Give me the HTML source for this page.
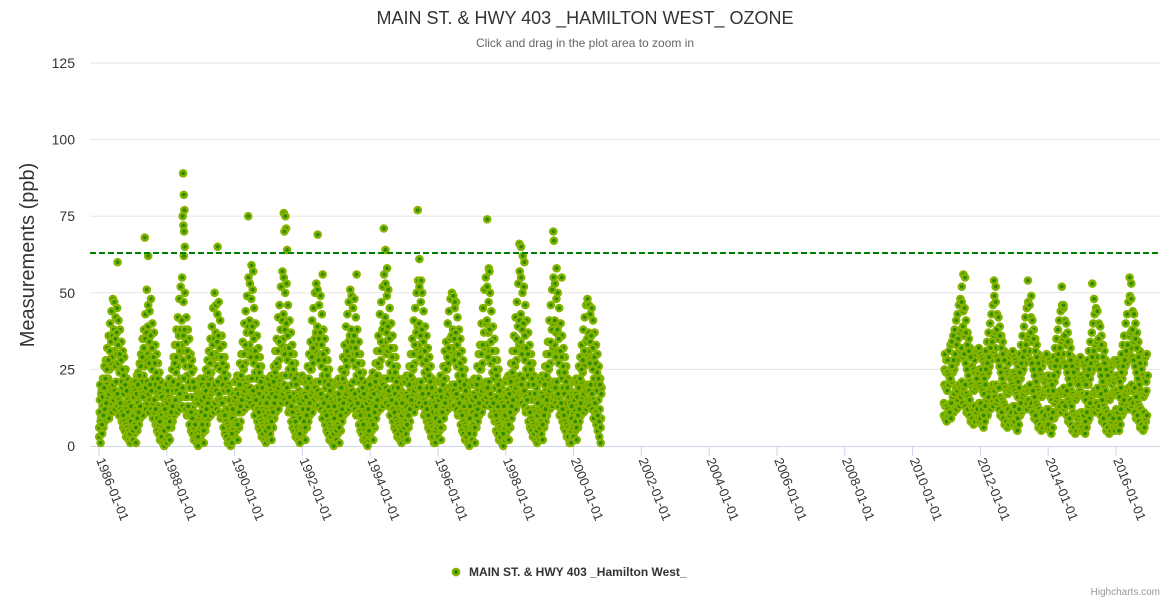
<!DOCTYPE html>
<html><head><meta charset="utf-8"><style>
body{margin:0;background:#fff;font-family:"Liberation Sans",sans-serif;}
svg text{font-family:"Liberation Sans",sans-serif;}
</style></head><body>
<svg id="chart" width="1170" height="600" xmlns="http://www.w3.org/2000/svg">
<rect width="1170" height="600" fill="#fff"/>
<text x="585" y="24" text-anchor="middle" font-size="18" fill="#333">MAIN ST. &amp; HWY 403 _HAMILTON WEST_ OZONE</text>
<text x="585" y="47" text-anchor="middle" font-size="12" fill="#666">Click and drag in the plot area to zoom in</text>
<text transform="translate(34,255) rotate(-90)" text-anchor="middle" font-size="20" fill="#333">Measurements (ppb)</text>
<g id="grid"></g><g id="xaxis"></g><g id="pts"></g><g id="thr"></g>
<g>
<circle cx="456" cy="572" r="3.2" fill="#2f8a00" stroke="#84b400" stroke-width="2.4"/>
<text x="469" y="576" font-size="12" font-weight="bold" fill="#333">MAIN ST. &amp; HWY 403 _Hamilton West_</text>
</g>
<text x="1160" y="595" text-anchor="end" font-size="10" fill="#999">Highcharts.com</text>
</svg>
<script>
const yTicks=[0,25,50,75,100,125];
const xTickYears=[1986,1988,1990,1992,1994,1996,1998,2000,2002,2004,2006,2008,2010,2012,2014,2016];
const threshold=63;
const years=[1986,1987,1988,1989,1990,1991,1992,1993,1994,1995,1996,1997,1998,1999,2000,2010,2011,2012,2013,2014,2015,2016];
const yearValues=[
"3 11 20 1 9 18 4 13 22 6 15 26 8 17 28 10 20 32 12 22 36 9 25 40 14 27 44 11 29 48 15 31 47 12 26 42 16 30 45 13 27 41 10 24 38 12 21 34 8 19 31 6 17 29 5 14 25 3 12 22 4 11 19 2 9 17 1 8 16 3 10 21",
"2 10 19 4 12 21 1 11 23 5 14 24 7 16 27 9 19 30 11 21 35 10 23 38 13 26 43 12 28 51 14 30 46 11 27 44 15 29 48 12 25 40 9 22 37 11 20 33 7 18 30 5 16 27 4 13 24 2 11 21 3 10 18 1 8 16 0 9 15 2 11 20",
"1 9 18 3 12 22 2 10 20 6 15 25 8 18 29 10 21 33 13 24 38 11 26 42 15 29 48 12 31 52 16 33 55 13 28 47 17 31 50 12 26 42 10 23 38 11 21 35 7 19 30 5 16 28 4 13 25 2 11 21 3 10 19 1 8 17 0 9 16 2 10 22",
"2 11 20 4 13 22 1 9 19 5 14 25 7 17 28 9 20 31 12 22 35 10 24 39 13 27 45 11 29 50 14 30 46 12 26 43 15 29 47 11 25 41 9 22 36 10 20 33 6 18 29 4 15 26 3 12 23 1 10 20 2 9 18 0 8 16 1 9 17 3 11 21",
"3 12 21 5 14 23 2 11 22 6 16 27 8 19 30 11 22 34 13 25 40 12 27 44 15 30 49 13 32 55 16 33 53 14 29 48 17 31 51 13 27 45 10 24 40 12 22 36 8 19 32 6 17 29 5 14 26 3 12 22 4 11 20 2 9 18 1 10 17 3 12 22",
"2 11 20 4 13 23 2 12 23 6 16 26 9 19 31 11 22 35 14 26 42 12 28 46 16 31 52 14 33 57 17 35 55 15 30 50 18 32 53 14 28 46 11 25 41 12 23 37 8 20 33 6 17 30 5 15 27 3 12 23 4 11 21 2 10 18 1 9 17 3 12 23",
"3 12 21 5 14 22 2 10 21 6 15 26 8 18 30 10 21 34 13 25 41 11 27 45 15 30 50 13 31 53 16 33 51 13 28 46 16 30 49 12 26 43 9 23 38 11 21 35 7 19 31 5 16 28 4 13 25 2 11 21 3 10 19 1 8 17 0 9 16 2 11 21",
"2 11 20 4 13 22 1 10 20 5 15 25 8 18 29 10 21 33 13 24 39 11 26 43 14 29 47 12 31 51 15 32 49 13 28 45 16 30 48 12 26 42 10 23 38 11 21 34 7 18 30 5 16 27 4 13 24 2 11 21 3 10 18 1 8 16 0 9 16 2 10 20",
"3 12 22 5 14 24 2 11 22 6 16 27 9 19 31 11 23 36 14 26 43 12 28 47 16 31 52 13 33 56 17 34 53 14 30 49 17 31 51 13 27 45 10 24 40 12 22 36 8 19 32 6 17 29 5 14 26 3 12 22 4 11 20 2 9 18 1 10 17 3 12 22",
"2 11 21 4 13 23 2 11 22 6 15 26 8 18 30 11 22 35 13 25 41 11 27 45 15 30 50 13 32 54 16 33 52 14 29 47 16 31 50 13 27 44 10 24 39 11 22 36 8 19 32 6 17 29 5 14 26 3 12 22 3 11 20 1 9 18 1 9 17 3 11 21",
"3 12 21 5 14 23 2 11 21 6 16 26 9 19 31 11 22 34 13 25 40 12 27 44 15 30 48 13 31 50 16 32 49 13 28 45 16 30 47 12 26 42 10 23 38 11 21 35 7 19 31 5 16 28 4 13 25 2 11 21 3 10 19 1 9 17 0 9 16 2 11 21",
"2 11 20 4 13 22 1 10 21 6 15 26 8 18 30 10 21 33 13 25 40 11 27 45 15 30 51 13 32 55 16 33 52 14 29 47 17 31 50 13 27 44 10 24 39 11 22 35 8 19 31 5 16 28 4 13 25 2 11 21 3 10 19 1 9 17 0 9 16 2 10 21",
"3 12 22 5 14 23 2 11 22 6 16 27 9 19 31 11 23 36 14 26 42 12 28 47 16 31 53 14 33 57 17 34 55 14 30 50 17 32 52 13 28 46 11 25 41 12 23 37 8 20 33 6 17 30 5 15 27 3 12 23 4 11 21 2 10 19 1 10 17 3 12 22",
"2 11 21 4 13 23 2 11 22 6 15 26 8 18 30 10 22 34 13 25 41 12 27 46 15 30 51 13 32 55 16 33 53 14 29 48 16 31 50 13 27 45 10 24 40 11 22 36 8 19 32 6 17 29 5 14 26 3 12 22 3 11 20 1 9 18 1 9 17 3 11 21",
"3 12 21 5 14 22 2 10 21 6 15 26 8 18 29 10 21 33 13 24 38 11 26 42 14 29 46 12 30 48 15 31 46 13 27 43 15 29 45 12 25 41 9 22 37 11 20 33 7 18 30 5 15 26 3 12 22 1 9 19 -1 -1 -1 -1 -1 -1 -1 -1 -1 -1 -1 -1",
"-1 -1 -1 -1 -1 -1 -1 -1 -1 -1 -1 -1 -1 -1 -1 -1 -1 -1 -1 -1 -1 -1 -1 -1 -1 -1 -1 -1 -1 -1 -1 -1 -1 -1 -1 -1 -1 -1 -1 -1 -1 -1 -1 -1 -1 -1 -1 -1 -1 -1 -1 -1 -1 -1 -1 -1 -1 -1 -1 -1 -1 -1 -1 -1 -1 -1 10 20 30 9 19 28",
"8 18 28 10 20 31 12 22 33 9 21 34 13 24 36 11 25 38 14 27 41 12 28 43 15 30 46 13 31 48 16 32 47 14 29 44 17 30 45 13 27 41 11 25 37 12 23 35 10 21 32 8 20 30 9 19 29 7 18 28 8 19 30 10 20 31 9 21 32 8 20 30",
"9 19 29 7 18 28 6 17 27 8 20 31 11 23 34 10 24 37 13 26 40 12 28 43 15 30 46 13 31 49 16 32 47 14 29 43 15 28 42 12 26 39 10 24 36 11 22 34 9 20 31 7 19 29 8 18 28 6 17 27 7 18 29 9 19 30 8 20 31 7 19 29",
"8 18 28 6 17 27 5 16 26 7 19 30 10 22 33 11 24 36 12 25 39 13 27 42 14 29 45 12 30 47 15 31 46 13 28 42 14 27 41 11 25 38 9 23 35 10 21 33 8 19 30 6 18 28 7 17 27 5 16 26 6 17 28 8 18 29 7 19 30 6 18 28",
"7 18 28 5 16 27 4 15 26 6 18 29 9 21 32 10 23 35 11 24 38 12 26 41 13 28 44 11 29 46 14 30 45 12 27 41 13 26 40 10 24 37 8 22 34 9 20 32 7 18 29 5 17 27 6 16 26 4 15 25 5 16 27 7 17 28 6 18 29 5 17 27",
"6 17 27 5 16 26 4 15 25 6 17 28 8 20 31 9 22 34 11 24 37 12 25 40 13 27 43 11 28 45 14 29 44 12 26 40 13 25 39 10 23 36 8 21 33 9 19 31 7 18 28 5 16 26 6 16 25 4 15 24 5 16 26 7 17 27 6 18 28 5 17 27",
"7 18 28 6 17 27 5 16 26 7 19 30 10 22 33 11 24 36 12 26 40 13 27 43 15 30 47 12 31 49 15 32 48 13 29 44 14 28 43 11 26 40 9 24 37 10 22 34 8 20 31 6 18 29 7 17 28 5 16 27 6 17 29 8 18 30 -1 -1 -1 -1 -1 -1"
];
const yearValuesExtra=[
"6 15 8 17 7 16 10 19 12 22 14 25 16 28 17 31 19 34 18 36 20 38 18 35 21 37 17 33 15 30 14 28 11 25 10 23 8 20 7 18 6 15 5 14 4 13 6 16",
"5 16 7 18 6 17 9 20 11 23 13 26 17 29 16 32 18 35 19 37 21 39 17 34 20 36 18 32 14 29 15 27 12 24 9 22 7 19 8 17 5 16 6 13 5 12 7 15",
"7 14 6 16 8 15 11 20 13 21 15 27 15 29 18 33 20 36 17 38 22 41 19 36 22 38 16 34 16 31 13 29 10 26 11 24 9 21 6 19 7 14 4 15 3 14 5 17",
"6 15 7 17 5 16 10 18 12 23 14 24 16 27 17 30 18 33 19 35 20 37 18 34 21 36 17 32 15 29 14 27 11 24 10 22 8 19 7 18 6 15 5 13 4 12 6 15",
"7 16 8 18 7 17 11 20 13 23 15 26 17 30 18 33 20 37 19 39 22 41 19 37 22 39 18 35 16 31 15 29 12 26 11 24 9 21 8 19 7 16 6 14 5 14 7 16",
"6 16 9 18 8 17 11 21 14 24 16 27 18 31 19 34 21 38 20 41 23 43 20 38 23 40 19 36 17 32 16 30 13 27 11 25 9 22 8 20 6 16 5 15 4 14 6 17",
"6 15 8 17 6 16 10 19 12 22 14 25 17 29 18 32 19 35 19 37 21 39 18 35 21 37 17 33 15 30 14 28 11 25 10 23 8 20 7 18 6 15 5 14 4 13 6 16",
"5 15 7 17 6 15 10 19 12 22 14 24 16 28 17 31 19 34 18 36 20 38 18 34 21 36 17 32 15 30 14 27 11 24 10 22 8 19 7 17 5 15 4 14 4 12 5 15",
"7 16 8 18 7 17 11 21 13 23 15 27 18 31 19 34 21 38 20 40 22 42 19 37 22 39 18 35 16 32 15 29 12 26 11 24 9 21 8 19 7 16 6 15 5 14 7 16",
"6 16 8 17 7 16 10 20 12 23 15 26 17 30 18 33 20 37 19 39 21 40 19 36 21 38 17 34 15 31 14 28 12 25 10 23 8 21 7 19 6 16 5 14 5 13 6 16",
"7 15 8 18 6 16 11 20 13 22 14 25 16 29 17 32 19 35 18 36 20 38 18 35 20 37 17 33 15 30 14 27 11 25 10 23 8 20 7 18 6 15 5 14 4 13 6 15",
"6 15 7 17 6 16 10 20 12 22 14 25 17 30 18 33 20 37 19 40 21 41 19 37 21 38 17 34 15 31 14 28 11 25 10 23 8 20 7 18 6 15 5 14 4 13 6 16",
"7 16 8 18 7 17 11 21 13 24 15 27 18 31 19 35 21 39 20 41 23 43 20 38 22 40 18 36 16 32 15 30 12 27 11 25 9 22 8 20 7 17 6 15 5 14 7 16",
"6 16 8 17 7 16 10 20 12 23 15 26 17 30 18 34 20 38 19 40 21 41 19 37 21 38 17 35 15 31 14 29 12 26 10 24 8 21 7 19 6 16 5 14 5 13 6 16",
"7 15 8 17 6 16 10 19 12 22 14 25 16 28 17 31 19 34 18 35 20 37 18 34 20 36 17 32 15 29 14 27 11 24 10 22 8 20 6 17 -1 -1 -1 -1 -1 -1 -1 -1",
"-1 -1 -1 -1 -1 -1 -1 -1 -1 -1 -1 -1 -1 -1 -1 -1 -1 -1 -1 -1 -1 -1 -1 -1 -1 -1 -1 -1 -1 -1 -1 -1 -1 -1 -1 -1 -1 -1 -1 -1 -1 -1 -1 -1 14 25 13 24",
"13 24 12 23 11 22 14 26 16 28 17 30 19 33 18 35 20 37 19 38 21 39 19 36 20 37 17 33 16 31 15 29 13 26 12 25 13 24 11 22 12 24 14 25",
"14 25 12 23 10 22 13 25 15 27 16 29 18 32 19 34 20 36 18 37 20 38 19 35 19 36 16 32 15 30 14 28 13 25 12 24 12 23 10 22 11 23 13 24",
"13 23 11 22 9 21 12 24 14 27 16 29 17 31 18 33 19 35 18 36 20 37 18 34 18 35 16 31 14 29 13 27 12 25 11 23 11 22 9 21 10 22 12 23",
"12 23 10 21 9 20 11 23 14 26 15 28 16 30 17 32 18 34 17 35 19 36 17 33 18 34 15 30 14 28 13 26 11 24 10 22 10 21 9 20 10 22 11 23",
"11 22 10 21 8 20 11 23 13 25 14 27 16 29 17 31 18 33 17 34 19 35 17 32 17 33 15 29 13 27 12 25 11 23 10 21 10 21 8 20 9 21 11 22",
"12 23 11 22 9 21 12 24 14 26 15 28 17 31 18 33 19 36 18 37 20 38 18 34 19 35 16 32 14 29 13 27 12 25 11 23 11 22 9 21 10 23 -1 -1"
];
const peakDates=[1986.55,1987.35,1987.45,1988.48,1988.5,1988.52,1988.47,1988.49,1988.51,1988.53,1988.5,1989.5,1990.4,1990.5,1990.55,1991.45,1991.5,1991.52,1991.47,1991.55,1992.45,1992.6,1993.6,1994.4,1994.45,1994.5,1995.4,1995.45,1995.5,1996.5,1997.45,1997.5,1997.52,1998.4,1998.45,1998.5,1998.55,1999.4,1999.42,1999.5,1999.65,2011.5,2011.55,2011.45,2012.4,2012.45,2013.4,2013.5,2014.4,2014.45,2015.3,2015.35,2016.4,2016.45];
const peakValues=[60,68,62,89,82,77,75,72,70,65,62,65,75,59,57,76,75,71,70,64,69,56,56,71,64,58,77,61,54,47,74,58,57,66,65,62,60,70,67,58,55,56,55,52,54,52,54,49,52,46,53,48,55,53];

const NS='http://www.w3.org/2000/svg';
const X0=99,PXY=33.9,Y0=446,PXU=3.064,L=90,R=1160;
const xs=d=>X0+(d-1986)*PXY, ys=v=>Y0-v*PXU;
function mk(t,a,p){const e=document.createElementNS(NS,t);for(const k in a)e.setAttribute(k,a[k]);p.appendChild(e);return e;}
const grid=document.getElementById('grid');
yTicks.forEach(v=>{
  if(v>0){const g=mk('line',{x1:L,x2:R,y1:ys(v),y2:ys(v),stroke:'#e6e6e6','stroke-width':1},grid);
  
  }
  const t=mk('text',{x:75,y:ys(v)+5,'text-anchor':'end','font-size':14,fill:'#333'},grid);
  t.textContent=v;
  
  
});
const xa=document.getElementById('xaxis');
const ax=mk('line',{x1:L,x2:R,y1:Y0+0.5,y2:Y0+0.5,stroke:'#ccd6eb','stroke-width':1},xa);


xTickYears.forEach(yr=>{
  const x=xs(yr);
  const tk=mk('line',{x1:x,x2:x,y1:Y0,y2:Y0+10,stroke:'#ccd6eb'},xa);
  
  
  const t=mk('text',{transform:`translate(${x-3},${Y0+14}) rotate(68)`,'font-size':13,fill:'#333'},xa);
  t.textContent=yr+'-01-01';
  
  
});
const pts=document.getElementById('pts');
function dot(d,v){
  const c=mk('circle',{cx:xs(d).toFixed(1),cy:ys(v).toFixed(1),r:3.1,fill:'#2f8a00',stroke:'#84b400','stroke-width':2.4},pts);
  
  
}
function plotSet(set,shift){
  years.forEach((yr,i)=>{
    const vals=set[i].trim().split(/\s+/).map(Number);
    vals.forEach((v,j)=>{ if(v>=0) dot(yr+(j+shift)/vals.length, v); });
  });
}
plotSet(yearValues,0.5);
plotSet(yearValuesExtra,0.25);
peakDates.forEach((d,i)=>dot(d,peakValues[i]));
const th=mk('line',{x1:L,x2:R,y1:ys(threshold),y2:ys(threshold),stroke:'#008000','stroke-width':2,'stroke-dasharray':'6,3'},document.getElementById('thr'));


</script>
</body></html>
